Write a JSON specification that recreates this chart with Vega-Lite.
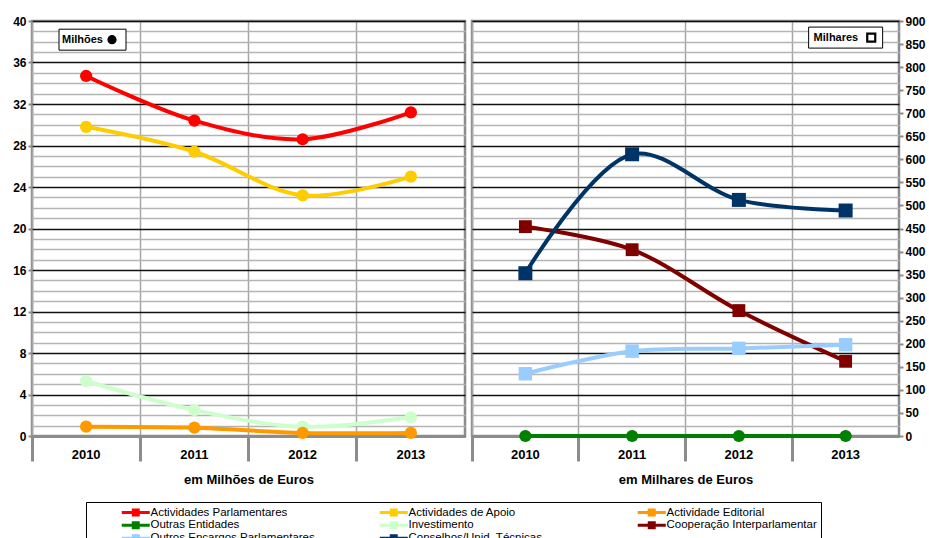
{
  "$schema": "https://vega.github.io/schema/vega-lite/v6.json",
  "background": "white",
  "padding": {"left": 11, "top": 13, "right": 5, "bottom": 5},
  "datasets": {
    "d": [
      {"panel": "M", "year": "2010", "series": "Investimento", "value": 5.3},
      {"panel": "M", "year": "2011", "series": "Investimento", "value": 2.5},
      {"panel": "M", "year": "2012", "series": "Investimento", "value": 0.9},
      {"panel": "M", "year": "2013", "series": "Investimento", "value": 1.8},
      {"panel": "M", "year": "2010", "series": "Actividade Editorial", "value": 0.9},
      {"panel": "M", "year": "2011", "series": "Actividade Editorial", "value": 0.8},
      {"panel": "M", "year": "2012", "series": "Actividade Editorial", "value": 0.3},
      {"panel": "M", "year": "2013", "series": "Actividade Editorial", "value": 0.3},
      {"panel": "M", "year": "2010", "series": "Actividades de Apoio", "value": 29.8},
      {"panel": "M", "year": "2011", "series": "Actividades de Apoio", "value": 27.4},
      {"panel": "M", "year": "2012", "series": "Actividades de Apoio", "value": 23.2},
      {"panel": "M", "year": "2013", "series": "Actividades de Apoio", "value": 25.0},
      {"panel": "M", "year": "2010", "series": "Actividades Parlamentares", "value": 34.7},
      {"panel": "M", "year": "2011", "series": "Actividades Parlamentares", "value": 30.4},
      {"panel": "M", "year": "2012", "series": "Actividades Parlamentares", "value": 28.6},
      {"panel": "M", "year": "2013", "series": "Actividades Parlamentares", "value": 31.2},
      {"panel": "K", "year": "2010", "series": "Outras Entidades", "value": 0},
      {"panel": "K", "year": "2011", "series": "Outras Entidades", "value": 0},
      {"panel": "K", "year": "2012", "series": "Outras Entidades", "value": 0},
      {"panel": "K", "year": "2013", "series": "Outras Entidades", "value": 0},
      {"panel": "K", "year": "2010", "series": "Cooperação Interparlamentar", "value": 454},
      {"panel": "K", "year": "2011", "series": "Cooperação Interparlamentar", "value": 404},
      {"panel": "K", "year": "2012", "series": "Cooperação Interparlamentar", "value": 272},
      {"panel": "K", "year": "2013", "series": "Cooperação Interparlamentar", "value": 162},
      {"panel": "K", "year": "2010", "series": "Outros Encargos Parlamentares", "value": 135},
      {"panel": "K", "year": "2011", "series": "Outros Encargos Parlamentares", "value": 184},
      {"panel": "K", "year": "2012", "series": "Outros Encargos Parlamentares", "value": 190},
      {"panel": "K", "year": "2013", "series": "Outros Encargos Parlamentares", "value": 198},
      {"panel": "K", "year": "2010", "series": "Conselhos/Unid. Técnicas", "value": 353},
      {"panel": "K", "year": "2011", "series": "Conselhos/Unid. Técnicas", "value": 611},
      {"panel": "K", "year": "2012", "series": "Conselhos/Unid. Técnicas", "value": 512},
      {"panel": "K", "year": "2013", "series": "Conselhos/Unid. Técnicas", "value": 489}
    ]
  },
  "config": {
    "view": {"stroke": "#8c8c8c", "strokeWidth": 2.5},
    "font": "Liberation Sans",
    "axis": {"labelFont": "Liberation Sans", "labelFontWeight": "bold", "labelColor": "#000", "titleFont": "Liberation Sans", "titleFontWeight": "bold", "titleColor": "#000"}
  },
  "spacing": 2,
  "resolve": {"scale": {"color": "shared"}},
  "hconcat": [
    {
      "width": 433,
      "height": 415,
      "data": {"name": "d"},
      "transform": [{"filter": "datum.panel == 'M'"}],
      "resolve": {"axis": {"x": "independent", "y": "independent"}},
      "layer": [
        {
          "mark": {"type": "line", "interpolate": "catmull-rom", "strokeWidth": 4},
          "encoding": {
            "x": {"field": "year", "type": "ordinal", "scale": {"type": "band", "paddingInner": 0, "paddingOuter": 0},
              "axis": {"title": "em Milhões de Euros", "labelFontSize": 13, "titleFontSize": 13, "ticks": false, "domain": false, "grid": false, "labelPadding": 12, "titlePadding": 12, "labelAngle": 0, "orient": "bottom"}},
            "y": {"field": "value", "type": "quantitative", "scale": {"domain": [0, 40], "nice": false},
              "axis": {"orient": "left", "title": null, "values": [0,1,2,3,4,5,6,7,8,9,10,11,12,13,14,15,16,17,18,19,20,21,22,23,24,25,26,27,28,29,30,31,32,33,34,35,36,37,38,39,40],
                "labelExpr": "datum.value % 4 == 0 ? datum.label : ''", "labelOverlap": false, "labelFontSize": 12, "labelPadding": 2,
                "tickSize": 4, "tickColor": "#8c8c8c", "tickWidth": 2,
                "tickOpacity": {"condition": {"test": "datum.value % 4 == 0", "value": 1}, "value": 0},
                "domain": false,
                "gridColor": {"condition": {"test": "datum.value % 4 == 0", "value": "#111111"}, "value": "#b4b4b4"},
                "gridWidth": 1.3}},
            "color": {"field": "series", "type": "nominal",
              "scale": {"domain": ["Actividades Parlamentares", "Actividades de Apoio", "Actividade Editorial", "Outras Entidades", "Investimento", "Cooperação Interparlamentar", "Outros Encargos Parlamentares", "Conselhos/Unid. Técnicas"],
                "range": ["#FF0000", "#FFCC00", "#FF9900", "#008000", "#CCFFCC", "#800000", "#99CCFF", "#003366"]},
              "legend": {"orient": "none", "legendX": 54, "legendY": 481, "direction": "horizontal", "columns": 3, "title": null,
                "symbolType": "M-4.67,0H4.67M-0.83,-0.83H0.83V0.83H-0.83Z", "symbolSize": 36, "symbolStrokeWidth": 3, "symbolOffset": 40, "labelOffset": 9,
                "labelFont": "Liberation Sans", "labelFontSize": 11.5, "labelColor": "#000", "columnPadding": 33, "gridAlign": "all", "rowPadding": 0, "clipHeight": 12.5,
                "strokeColor": "#000", "padding": 4, "labelLimit": 300}}
          }
        },
        {
          "mark": {"type": "point", "filled": true, "opacity": 1, "size": 150, "shape": "circle"},
          "encoding": {
            "x": {"field": "year", "type": "ordinal",
              "axis": {"orient": "bottom", "bandPosition": 0, "labels": false, "title": null, "grid": true, "gridColor": "#a6a6a6", "gridWidth": 1.5, "ticks": true, "tickSize": 25, "tickColor": "#8c8c8c", "tickWidth": 3, "domain": true, "domainColor": "#8c8c8c", "domainWidth": 3}},
            "y": {"field": "value", "type": "quantitative", "axis": null},
            "color": {"field": "series", "type": "nominal"}
          }
        },
        {
          "data": {"values": [{"label": "Milhões"}]},
          "mark": {"type": "point", "shape": "M-1,-0.313H1V0.313H-1Z", "size": 4489, "filled": true, "fill": "white", "stroke": "black", "strokeWidth": 1, "opacity": 1},
          "encoding": {
            "x": {"datum": "2010", "type": "ordinal", "bandPosition": 0.559, "axis": null},
            "y": {"datum": 38.2, "type": "quantitative", "axis": null}
          }
        },
        {
          "data": {"values": [{"label": "Milhões"}]},
          "mark": {"type": "text", "align": "left", "baseline": "middle", "fontWeight": "bold", "fontSize": 11, "font": "Liberation Sans", "color": "black"},
          "encoding": {
            "x": {"datum": "2010", "type": "ordinal", "bandPosition": 0.277, "axis": null},
            "y": {"datum": 38.2, "type": "quantitative", "axis": null},
            "text": {"field": "label"}
          }
        },
        {
          "data": {"values": [{"label": "Milhões"}]},
          "mark": {"type": "point", "shape": "circle", "size": 85, "filled": true, "color": "black", "opacity": 1},
          "encoding": {
            "x": {"datum": "2010", "type": "ordinal", "bandPosition": 0.739, "axis": null},
            "y": {"datum": 38.2, "type": "quantitative", "axis": null}
          }
        }
      ]
    },
    {
      "width": 427,
      "height": 415,
      "data": {"name": "d"},
      "transform": [{"filter": "datum.panel == 'K'"}],
      "resolve": {"axis": {"x": "independent", "y": "independent"}},
      "layer": [
        {
          "mark": {"type": "line", "interpolate": "catmull-rom", "strokeWidth": 4},
          "encoding": {
            "x": {"field": "year", "type": "ordinal", "scale": {"type": "band", "paddingInner": 0, "paddingOuter": 0},
              "axis": {"title": "em Milhares de Euros", "labelFontSize": 13, "titleFontSize": 13, "ticks": false, "domain": false, "grid": false, "labelPadding": 12, "titlePadding": 12, "labelAngle": 0, "orient": "bottom"}},
            "y": {"field": "value", "type": "quantitative", "scale": {"domain": [0, 900], "nice": false},
              "axis": {"orient": "left", "title": null, "labels": false, "ticks": false, "domain": false,
                "values": [0,22.5,45,67.5,90,112.5,135,157.5,180,202.5,225,247.5,270,292.5,315,337.5,360,382.5,405,427.5,450,472.5,495,517.5,540,562.5,585,607.5,630,652.5,675,697.5,720,742.5,765,787.5,810,832.5,855,877.5,900],
                "gridColor": {"condition": {"test": "datum.value % 90 == 0", "value": "#111111"}, "value": "#b4b4b4"},
                "gridWidth": 1.3}},
            "color": {"field": "series", "type": "nominal"}
          }
        },
        {
          "mark": {"type": "point", "filled": true, "opacity": 1},
          "encoding": {
            "x": {"field": "year", "type": "ordinal",
              "axis": {"orient": "bottom", "bandPosition": 0, "labels": false, "title": null, "grid": true, "gridColor": "#a6a6a6", "gridWidth": 1.5, "ticks": true, "tickSize": 25, "tickColor": "#8c8c8c", "tickWidth": 3, "domain": true, "domainColor": "#8c8c8c", "domainWidth": 3}},
            "y": {"field": "value", "type": "quantitative",
              "axis": {"orient": "right", "title": null, "values": [0,50,100,150,200,250,300,350,400,450,500,550,600,650,700,750,800,850,900], "labelFontSize": 12, "labelPadding": 2, "tickSize": 4, "tickColor": "#8c8c8c", "tickWidth": 2, "domain": false, "grid": false, "labelOverlap": false}},
            "color": {"field": "series", "type": "nominal"},
            "shape": {"field": "series", "type": "nominal", "legend": null,
              "scale": {"domain": ["Outras Entidades", "Cooperação Interparlamentar", "Outros Encargos Parlamentares", "Conselhos/Unid. Técnicas"], "range": ["circle", "square", "square", "square"]}},
            "size": {"field": "series", "type": "nominal", "legend": null,
              "scale": {"domain": ["Outras Entidades", "Cooperação Interparlamentar", "Outros Encargos Parlamentares", "Conselhos/Unid. Técnicas"], "range": [150, 196, 196, 196]}}
          }
        },
        {
          "data": {"values": [{"label": "Milhares"}]},
          "mark": {"type": "point", "shape": "M-1,-0.284H1V0.284H-1Z", "size": 5476, "filled": true, "fill": "white", "stroke": "black", "strokeWidth": 1, "opacity": 1},
          "encoding": {
            "x": {"datum": "2013", "type": "ordinal", "bandPosition": 0.5, "axis": null},
            "y": {"datum": 864, "type": "quantitative", "axis": null}
          }
        },
        {
          "data": {"values": [{"label": "Milhares"}]},
          "mark": {"type": "text", "align": "left", "baseline": "middle", "fontWeight": "bold", "fontSize": 11, "font": "Liberation Sans", "color": "black"},
          "encoding": {
            "x": {"datum": "2013", "type": "ordinal", "bandPosition": 0.2, "axis": null},
            "y": {"datum": 864, "type": "quantitative", "axis": null},
            "text": {"field": "label"}
          }
        },
        {
          "data": {"values": [{"label": "Milhares"}]},
          "mark": {"type": "point", "shape": "square", "size": 64, "filled": true, "fill": "white", "stroke": "black", "strokeWidth": 2.2, "opacity": 1},
          "encoding": {
            "x": {"datum": "2013", "type": "ordinal", "bandPosition": 0.74, "axis": null},
            "y": {"datum": 864, "type": "quantitative", "axis": null}
          }
        }
      ]
    }
  ]
}
